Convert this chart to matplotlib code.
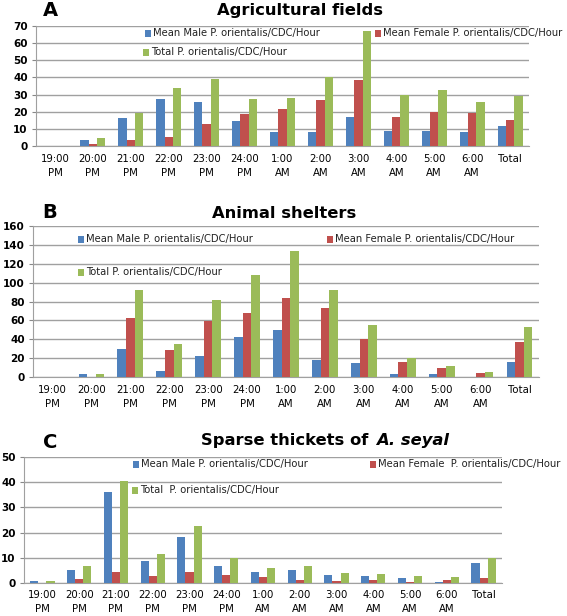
import matplotlib
matplotlib.use("Agg")
import matplotlib.pyplot as plt
import numpy as np
from matplotlib.patches import Rectangle

hours = ["19:00\nPM", "20:00\nPM", "21:00\nPM", "22:00\nPM", "23:00\nPM", "24:00\nPM",
         "1:00\nAM", "2:00\nAM", "3:00\nAM", "4:00\nAM", "5:00\nAM", "6:00\nAM", "Total"]

a_male = [0, 3.5, 16.5, 27.6, 25.5, 14.8, 8.4, 8.4, 16.9, 9.0, 9.0, 8.4, 11.9]
a_female = [0, 1.2, 3.5, 5.2, 12.6, 18.5, 21.4, 26.6, 38.5, 16.9, 19.8, 19.0, 15.4]
a_total = [0, 4.5, 19.0, 34.0, 39.3, 27.6, 28.2, 40.3, 67.0, 30.0, 32.7, 25.5, 29.2]

b_male = [0, 2.8, 30.0, 6.7, 22.0, 42.0, 49.6, 17.7, 15.2, 3.5, 2.8, 0, 16.3]
b_female = [0, 0, 62.3, 29.0, 59.8, 67.3, 84.0, 73.3, 40.4, 16.3, 9.6, 4.6, 36.8]
b_total = [0, 2.8, 92.0, 35.4, 82.0, 108.3, 133.8, 92.0, 55.6, 20.2, 11.7, 5.7, 53.5]

c_male = [0.9, 5.3, 36.0, 8.9, 18.3, 6.9, 4.3, 5.1, 3.2, 2.8, 2.0, 0.5, 7.9]
c_female = [0, 1.7, 4.3, 2.8, 4.3, 3.2, 2.4, 1.3, 0.9, 1.3, 0.5, 1.1, 2.1]
c_total = [0.9, 6.7, 40.3, 11.6, 22.7, 9.9, 6.1, 6.9, 4.0, 3.6, 2.8, 2.4, 9.9]

lbl_male = "Mean Male P. orientalis/CDC/Hour"
lbl_female_ab = "Mean Female P. orientalis/CDC/Hour"
lbl_female_c = "Mean Female  P. orientalis/CDC/Hour"
lbl_total_ab = "Total P. orientalis/CDC/Hour"
lbl_total_c = "Total  P. orientalis/CDC/Hour"

BLUE, RED, GREEN = "#4F81BD", "#C0504D", "#9BBB59"
W, H = 567, 616
fig = plt.figure(figsize=(W / 100, H / 100), dpi=100)

def px_axes(l, r, t, b):
    return fig.add_axes([l / W, 1 - b / H, (r - l) / W, (b - t) / H])

def legend_item(x, y, color, text):
    fig.patches.append(Rectangle(((x - 8) / W, 1 - (y + 3.5) / H), 6 / W, 7 / H,
                                 transform=fig.transFigure, facecolor=color,
                                 edgecolor="none", figure=fig))
    fig.text(x / W, 1 - y / H, text, fontsize=7.2, va="center", ha="left",
             color="#222222")

def panel(ax, male, female, total, ymax, step, pad=6):
    x = np.arange(len(hours))
    bw = 0.22
    ax.bar(x - bw, male, bw, color=BLUE, zorder=3)
    ax.bar(x, female, bw, color=RED, zorder=3)
    ax.bar(x + bw, total, bw, color=GREEN, zorder=3)
    ax.set_xlim(-0.5, len(hours) - 0.5)
    ax.set_ylim(0, ymax)
    ax.set_yticks(np.arange(0, ymax + 1, step))
    ax.set_xticks(x)
    ax.set_xticklabels(hours, fontsize=7.3, linespacing=1.45)
    ax.tick_params(axis="x", length=0, pad=pad)
    ax.tick_params(axis="y", length=3, color="#888888", labelsize=7.5, pad=3)
    for t in ax.get_yticklabels():
        t.set_fontweight("bold")
    ax.grid(axis="y", color="#A0A0A0", linewidth=1.0, zorder=0)
    for s in ["top", "right"]:
        ax.spines[s].set_visible(False)
    ax.spines["left"].set_color("#A0A0A0")
    ax.spines["bottom"].set_color("#A0A0A0")
    ax.set_facecolor("white")

axA = px_axes(36, 529, 26, 146)
panel(axA, a_male, a_female, a_total, 70, 10)
axB = px_axes(33, 539, 226, 377)
panel(axB, b_male, b_female, b_total, 160, 20)
axC = px_axes(24, 502, 457, 583)
panel(axC, c_male, c_female, c_total, 50, 10, pad=5)

# Titles
fig.text(50 / W, 1 - 11 / H, "A", fontsize=14, fontweight="bold", ha="center", va="center")
fig.text(300 / W, 1 - 11 / H, "Agricultural fields", fontsize=11.8, fontweight="bold",
         ha="center", va="center")
fig.text(50 / W, 1 - 213 / H, "B", fontsize=14, fontweight="bold", ha="center", va="center")
fig.text(284 / W, 1 - 213 / H, "Animal shelters", fontsize=11.8, fontweight="bold",
         ha="center", va="center")
fig.text(50 / W, 1 - 442 / H, "C", fontsize=14, fontweight="bold", ha="center", va="center")
fig.text(374 / W, 1 - 441 / H, "Sparse thickets of ", fontsize=11.8,
         fontweight="bold", ha="right", va="center")
fig.text(376 / W, 1 - 441 / H, "A. seyal", fontsize=11.8,
         fontweight="bold", fontstyle="italic", ha="left", va="center")

# Legends
legend_item(153, 33, BLUE, lbl_male)
legend_item(383, 33, RED, lbl_female_ab)
legend_item(151, 52, GREEN, lbl_total_ab)

legend_item(86, 239, BLUE, lbl_male)
legend_item(335, 239, RED, lbl_female_ab)
legend_item(86, 272, GREEN, lbl_total_ab)

legend_item(141, 464, BLUE, lbl_male)
legend_item(378, 464, RED, lbl_female_c)
legend_item(140, 490, GREEN, lbl_total_c)

fig.savefig("out.png", dpi=100)
